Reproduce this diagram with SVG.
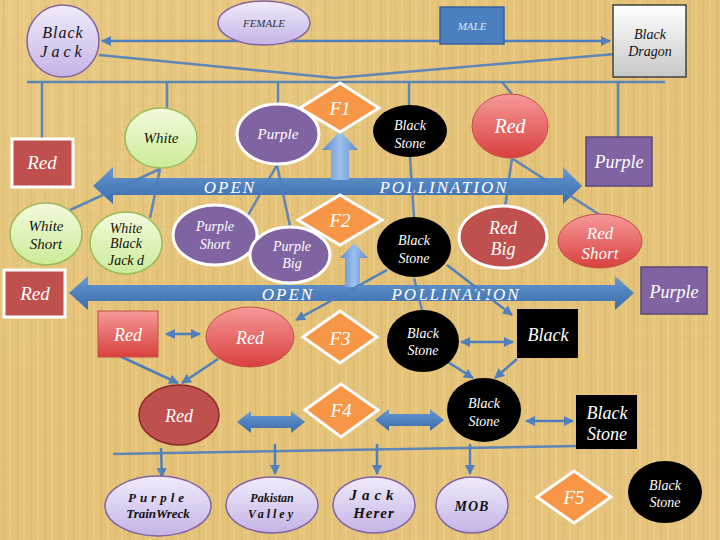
<svg xmlns="http://www.w3.org/2000/svg" width="720" height="540" viewBox="0 0 720 540">
<defs>
<linearGradient id="bg" x1="0" y1="0" x2="1" y2="1">
<stop offset="0" stop-color="#e9c984"/><stop offset="0.5" stop-color="#e4c277"/><stop offset="1" stop-color="#e7c57e"/>
</linearGradient>
<pattern id="tex" width="14" height="11" patternUnits="userSpaceOnUse">
<rect x="3" y="0" width="1" height="11" fill="#c9a45c" opacity="0.3"/>
<rect x="9" y="0" width="2" height="11" fill="#f3dca0" opacity="0.3"/>
<rect x="0" y="6" width="14" height="1" fill="#caa45e" opacity="0.1"/>
</pattern>
<linearGradient id="lav" x1="0" y1="0" x2="0" y2="1"><stop offset="0" stop-color="#f1ecfb"/><stop offset="1" stop-color="#c4b3e6"/></linearGradient>
<linearGradient id="grn" x1="0" y1="0" x2="0" y2="1"><stop offset="0" stop-color="#f3fbdc"/><stop offset="1" stop-color="#cbeb98"/></linearGradient>
<linearGradient id="gry" x1="0" y1="0" x2="0" y2="1"><stop offset="0" stop-color="#ffffff"/><stop offset="1" stop-color="#c8c8c8"/></linearGradient>
<linearGradient id="rdg" x1="0" y1="0" x2="0" y2="1"><stop offset="0" stop-color="#f59a98"/><stop offset="1" stop-color="#d9403e"/></linearGradient>
<linearGradient id="blu" x1="0" y1="0" x2="0" y2="1"><stop offset="0" stop-color="#6a9ad6"/><stop offset="0.5" stop-color="#4f81bd"/><stop offset="1" stop-color="#3d6cab"/></linearGradient>
<linearGradient id="bluv" x1="0" y1="0" x2="1" y2="0"><stop offset="0" stop-color="#5b8bcb"/><stop offset="0.5" stop-color="#9cc0ee"/><stop offset="1" stop-color="#5b8bcb"/></linearGradient>
<marker id="ah" viewBox="0 0 10 10" refX="9" refY="5" markerWidth="4" markerHeight="4" orient="auto-start-reverse">
<path d="M0,0 L10,5 L0,10 Z" fill="#4f7fbd"/>
</marker>
<style>
text{font-family:"Liberation Serif","DejaVu Serif",serif;font-style:italic;text-anchor:middle;}
.w{fill:#ffffff;}
.k{fill:#111111;}
.c{stroke:#4f7fbd;stroke-width:2.5;fill:none;opacity:0.9;}
.ca{stroke:#4f7fbd;stroke-width:2.5;fill:none;marker-end:url(#ah);}
.cb{stroke:#4f7fbd;stroke-width:2.5;fill:none;marker-end:url(#ah);marker-start:url(#ah);}
.big{fill:url(#blu);}
.lav{fill:url(#lav);stroke:#8064a2;stroke-width:1.5;}
.grn{fill:url(#grn);stroke:#9bbb59;stroke-width:1.5;}
.pur{fill:#8064a2;stroke:#ffffff;stroke-width:3;}
.purr{fill:#8064a2;stroke:#5c4776;stroke-width:1.5;}
.red{fill:#c0504d;stroke:#ffffff;stroke-width:3;}
.redg{fill:url(#rdg);stroke:#c0504d;stroke-width:1;}
.dia{fill:#f79646;stroke:#ffffff;stroke-width:3;}
.blk{fill:#000000;}
</style>
</defs>
<rect width="720" height="540" fill="url(#bg)"/>
<rect width="720" height="540" fill="url(#tex)"/>

<g id="big-arrows">
<path class="big" d="M93,186 L113,167 L113,178 L563,178 L563,167 L582,186 L563,204 L563,195 L113,195 L113,204 Z"/>
<path class="big" d="M69,293 L88,276 L88,285 L615,285 L615,276 L634,293 L615,310 L615,301 L88,301 L88,310 Z"/>
<path fill="url(#bluv)" d="M340,131 L358,150 L349,150 L349,180 L331,180 L331,150 L322,150 Z"/>
<path fill="url(#bluv)" d="M354,243 L368,258 L360,258 L360,287 L345,287 L345,258 L340,258 Z"/>
<path class="big" d="M237,422 L251,411 L251,416 L291,416 L291,411 L305,422 L291,433 L291,428 L251,428 L251,433 Z"/>
<path class="big" d="M375,420 L389,409 L389,414 L430,414 L430,409 L444,420 L430,431 L430,426 L389,426 L389,431 Z"/>
<text class="w" x="230" y="193" font-size="17" letter-spacing="2">OPEN</text>
<text class="w" x="444" y="193" font-size="17" letter-spacing="2">POLLINATION</text>
<text class="w" x="288" y="300" font-size="17" letter-spacing="2">OPEN</text>
<text class="w" x="456" y="300" font-size="17" letter-spacing="2">POLLINATION</text>
</g>

<g id="connectors">
<line class="cb" x1="102" y1="41" x2="610" y2="41"/>
<polyline class="c" points="99,55 335,78 615,54"/>
<line class="c" x1="27" y1="82" x2="665" y2="82"/>
<line class="c" x1="42" y1="82" x2="42" y2="139"/>
<line class="c" x1="167" y1="82" x2="167" y2="108"/>
<line class="c" x1="278" y1="82" x2="278" y2="104"/>
<line class="c" x1="409" y1="82" x2="409" y2="106"/>
<line class="c" x1="502" y1="82" x2="512" y2="94"/>
<line class="c" x1="618" y1="82" x2="618" y2="137"/>
<line class="c" x1="160" y1="169" x2="70" y2="210"/>
<line class="c" x1="160" y1="169" x2="150" y2="218"/>
<line class="c" x1="277" y1="165" x2="247" y2="217"/>
<line class="c" x1="277" y1="165" x2="290" y2="226"/>
<line class="c" x1="410" y1="157" x2="414" y2="217"/>
<line class="c" x1="512" y1="158" x2="505" y2="207"/>
<line class="c" x1="513" y1="159" x2="600" y2="215"/>
<line class="ca" x1="387" y1="270" x2="296" y2="320"/>
<line class="c" x1="414" y1="278" x2="422" y2="310"/>
<line class="ca" x1="447" y1="265" x2="512" y2="315"/>
<line class="cb" x1="166" y1="334" x2="200" y2="334"/>
<line class="cb" x1="461" y1="342" x2="513" y2="342"/>
<line class="ca" x1="113" y1="353" x2="178" y2="383"/>
<line class="ca" x1="218" y1="359" x2="182" y2="383"/>
<line class="ca" x1="448" y1="362" x2="473" y2="378"/>
<line class="ca" x1="517" y1="359" x2="495" y2="378"/>
<line class="cb" x1="526" y1="421" x2="573" y2="421"/>
<line class="c" x1="113" y1="454" x2="577" y2="446"/>
<line class="ca" x1="161" y1="448" x2="162" y2="477"/>
<line class="ca" x1="275" y1="444" x2="275" y2="474"/>
<line class="ca" x1="377" y1="444" x2="377" y2="474"/>
<line class="ca" x1="470" y1="444" x2="470" y2="474"/>
</g>

<g id="n-blackjack"><circle class="lav" cx="63" cy="41" r="36"/><text class="k" x="63" y="38" font-size="16" letter-spacing="1">Black</text><text class="k" x="63" y="57" font-size="16" letter-spacing="4">Jack</text></g>
<g id="n-female"><ellipse class="lav" cx="264" cy="23" rx="46" ry="22"/><text fill="#333" x="264" y="27" font-size="11">FEMALE</text></g>
<g id="n-male"><rect x="440" y="7" width="64" height="37" fill="#4a7fc0" stroke="#3a6399" stroke-width="1.5"/><text fill="#dfe6f3" x="472" y="30" font-size="11">MALE</text></g>
<g id="n-blackdragon"><rect x="613" y="5" width="73" height="72" fill="url(#gry)" stroke="#404040" stroke-width="1.5"/><text class="k" x="650" y="39" font-size="14">Black</text><text class="k" x="650" y="56" font-size="14">Dragon</text></g>

<g id="n-red1"><rect class="red" x="12" y="139" width="61" height="48"/><text class="w" x="42" y="169" font-size="19">Red</text></g>
<g id="n-white"><ellipse class="grn" cx="161" cy="138" rx="36" ry="30"/><text class="k" x="161" y="143" font-size="15">White</text></g>
<g id="n-purple"><ellipse class="pur" cx="278" cy="134" rx="41" ry="30"/><text class="w" x="278" y="139" font-size="15">Purple</text></g>
<g id="n-f1"><polygon class="dia" points="300,108 340,83 379,108 340,132"/><text class="w" x="340" y="115" font-size="19">F1</text></g>
<g id="n-blackstone1"><ellipse class="blk" cx="410" cy="131" rx="37" ry="26"/><text class="w" x="410" y="130" font-size="14">Black</text><text class="w" x="410" y="148" font-size="14">Stone</text></g>
<g id="n-redcircle"><ellipse class="redg" cx="510" cy="126" rx="38" ry="32"/><text class="w" x="510" y="133" font-size="20">Red</text></g>
<g id="n-purple1"><rect class="purr" x="586" y="137" width="66" height="49"/><text class="w" x="619" y="168" font-size="18">Purple</text></g>

<g id="n-whiteshort"><ellipse class="grn" cx="46" cy="234" rx="36" ry="31"/><text class="k" x="46" y="231" font-size="15">White</text><text class="k" x="46" y="249" font-size="15">Short</text></g>
<g id="n-whiteblackjackd"><ellipse class="grn" cx="126" cy="243" rx="36" ry="31"/><text class="k" x="126" y="233" font-size="14">White</text><text class="k" x="126" y="248" font-size="14">Black</text><text class="k" x="126" y="265" font-size="14">Jack d</text></g>
<g id="n-purpleshort"><ellipse class="pur" cx="215" cy="235" rx="42" ry="30"/><text class="w" x="215" y="231" font-size="14">Purple</text><text class="w" x="215" y="249" font-size="14">Short</text></g>
<g id="n-purplebig"><ellipse class="pur" cx="290" cy="255" rx="40" ry="28"/><text class="w" x="292" y="251" font-size="14">Purple</text><text class="w" x="292" y="268" font-size="14">Big</text></g>
<g id="n-f2"><polygon class="dia" points="298,220 340,195 382,220 340,245"/><text class="w" x="340" y="227" font-size="19">F2</text></g>
<g id="n-blackstone2"><ellipse class="blk" cx="414" cy="247" rx="37" ry="30"/><text class="w" x="414" y="245" font-size="14">Black</text><text class="w" x="414" y="263" font-size="14">Stone</text></g>
<g id="n-redbig"><ellipse class="red" cx="503" cy="237" rx="44" ry="31"/><text class="w" x="503" y="234" font-size="18">Red</text><text class="w" x="503" y="255" font-size="18">Big</text></g>
<g id="n-redshort"><ellipse class="redg" cx="600" cy="241" rx="42" ry="27"/><text class="w" x="600" y="239" font-size="17">Red</text><text class="w" x="600" y="259" font-size="17">Short</text></g>

<g id="n-red2"><rect class="red" x="4" y="270" width="61" height="47"/><text class="w" x="35" y="300" font-size="19">Red</text></g>
<g id="n-purple2"><rect class="purr" x="641" y="267" width="66" height="47"/><text class="w" x="674" y="298" font-size="18">Purple</text></g>

<g id="n-redrect3"><rect class="redg" x="98" y="311" width="60" height="46"/><text class="w" x="128" y="341" font-size="18">Red</text></g>
<g id="n-red3"><ellipse class="redg" cx="250" cy="337" rx="44" ry="30"/><text class="w" x="250" y="344" font-size="18">Red</text></g>
<g id="n-f3"><polygon class="dia" points="303,337 340,311 377,337 340,363"/><text class="w" x="340" y="345" font-size="19">F3</text></g>
<g id="n-blackstone3"><ellipse class="blk" cx="423" cy="341" rx="36" ry="31"/><text class="w" x="423" y="338" font-size="14">Black</text><text class="w" x="423" y="355" font-size="14">Stone</text></g>
<g id="n-black"><rect class="blk" x="517" y="309" width="61" height="49"/><text class="w" x="548" y="341" font-size="18">Black</text></g>

<g id="n-red4"><ellipse cx="179" cy="415" rx="40" ry="30" fill="#c0504d" stroke="#8b2a28" stroke-width="1.5"/><text class="w" x="179" y="422" font-size="18">Red</text></g>
<g id="n-f4"><polygon class="dia" points="305,410 341,384 378,410 341,437"/><text class="w" x="341" y="417" font-size="19">F4</text></g>
<g id="n-blackstone4"><ellipse class="blk" cx="484" cy="410" rx="37" ry="32"/><text class="w" x="484" y="408" font-size="14">Black</text><text class="w" x="484" y="426" font-size="14">Stone</text></g>
<g id="n-blackstone-rect"><rect class="blk" x="576" y="395" width="61" height="54"/><text class="w" x="607" y="419" font-size="18">Black</text><text class="w" x="607" y="440" font-size="18">Stone</text></g>

<g id="n-purpletrainwreck"><ellipse class="lav" cx="158" cy="506" rx="53" ry="30"/><text class="k" x="158" y="502" font-size="13" font-weight="bold" letter-spacing="4">Purple</text><text class="k" x="158" y="518" font-size="13" font-weight="bold">TrainWreck</text></g>
<g id="n-pakistanvalley"><ellipse class="lav" cx="272" cy="505" rx="46" ry="28"/><text class="k" x="272" y="502" font-size="12" font-weight="bold">Pakistan</text><text class="k" x="272" y="518" font-size="12" font-weight="bold" letter-spacing="3">Valley</text></g>
<g id="n-jackherer"><ellipse class="lav" cx="374" cy="505" rx="41" ry="28"/><text class="k" x="374" y="500" font-size="15" font-weight="bold" letter-spacing="5">Jack</text><text class="k" x="374" y="518" font-size="15" font-weight="bold" letter-spacing="1">Herer</text></g>
<g id="n-mob"><ellipse class="lav" cx="472" cy="505" rx="36" ry="28"/><text class="k" x="472" y="511" font-size="14" font-weight="bold" letter-spacing="1">MOB</text></g>
<g id="n-f5"><polygon class="dia" points="537,497 574,471 611,497 574,523"/><text class="w" x="574" y="504" font-size="19">F5</text></g>
<g id="n-blackstone5"><ellipse class="blk" cx="665" cy="492" rx="37" ry="31"/><text class="w" x="665" y="490" font-size="14">Black</text><text class="w" x="665" y="507" font-size="14">Stone</text></g>
</svg>
